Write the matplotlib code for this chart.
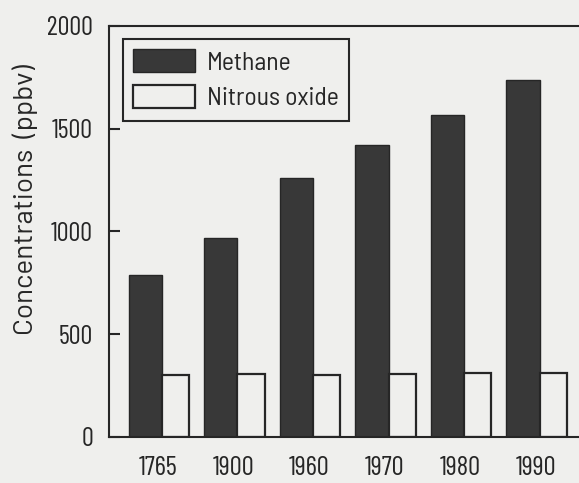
import matplotlib.pyplot as plt
import numpy as np

years = ['1765', '1900', '1960', '1970', '1980', '1990']
methane = [790, 970, 1260, 1420, 1565, 1735]
nitrous = [300, 305, 302, 305, 310, 312]

plt.rcParams['font.family'] = ['Barlow Semi Condensed', 'DejaVu Sans']

bg = '#efefed'
ink = '#262626'
tick_font = ['Barlow Condensed', 'DejaVu Sans']

fig = plt.figure(figsize=(5.79, 4.83), dpi=100, facecolor=bg)
ax = fig.add_axes([109 / 579, 1 - 437 / 483, 470 / 579, 411 / 483])
ax.set_facecolor(bg)

x = np.arange(len(years))
ax.bar(x, methane, width=-0.44, align='edge', color='#383838', edgecolor=ink,
       linewidth=1.0, label='Methane')
ax.bar(x, nitrous, width=0.36, align='edge', color=bg, edgecolor=ink,
       linewidth=1.6, label='Nitrous oxide')

ax.set_xlim(-0.70, 5.52)
ax.set_ylim(0, 2000)
ax.set_yticks([0, 500, 1000, 1500, 2000])
ax.set_xticks(x - 0.05)
ax.set_xticklabels(years)

ax.tick_params(axis='y', direction='in', length=8, width=1.5, pad=11.5, colors=ink)
ax.tick_params(axis='x', length=0, pad=14, colors=ink)
for lab in ax.get_yticklabels():
    lab.set_family(tick_font)
    lab.set_fontsize(19)
for lab in ax.get_xticklabels():
    lab.set_family(tick_font)
    lab.set_fontsize(19.5)

for side in ['left', 'bottom', 'top']:
    ax.spines[side].set_linewidth(1.5)
    ax.spines[side].set_color(ink)
ax.spines['right'].set_visible(False)

ax.set_ylabel('Concentrations  (ppbv)', fontsize=20, color=ink,
              family=['Barlow', 'DejaVu Sans'])
ax.yaxis.set_label_coords(-0.152, 0.577)

leg = ax.legend(loc='upper left', bbox_to_anchor=(0.030, 0.968), borderaxespad=0,
                fontsize=18.5, handlelength=2.4, handleheight=1.0, handletextpad=0.47,
                borderpad=0.4, labelspacing=0.4, fancybox=False, framealpha=1,
                facecolor=bg, edgecolor=ink)
leg.get_frame().set_linewidth(1.5)
for t in leg.get_texts():
    t.set_color(ink)

fig.savefig('out.png', dpi=100, facecolor=bg)
